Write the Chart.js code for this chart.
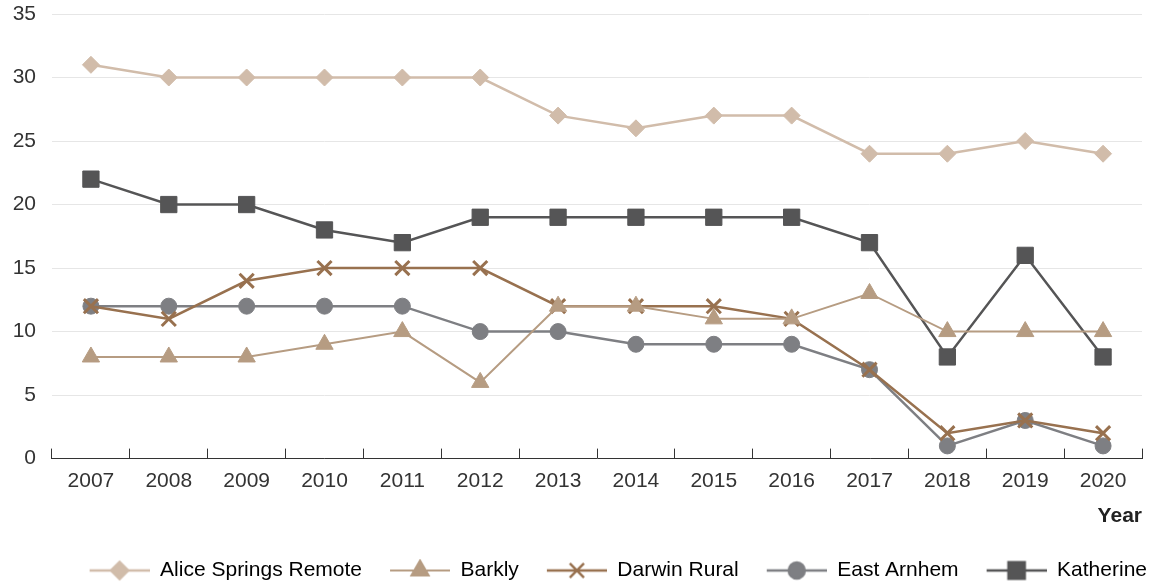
<!DOCTYPE html>
<html>
<head>
<meta charset="utf-8">
<script src="https://cdn.jsdelivr.net/npm/chart.js@4/dist/chart.umd.min.js"></script>
<style>
  html, body { margin: 0; padding: 0; background: #fff; }
  #wrap { width: 1155px; height: 583px; }
</style>
</head>
<body>
<div id="wrap"><canvas id="c"></canvas></div>
<script>
// data
const years = ['2007','2008','2009','2010','2011','2012','2013','2014','2015','2016','2017','2018','2019','2020'];
const aliceSprings = [31, 30, 30, 30, 30, 30, 27, 26, 27, 27, 24, 24, 25, 24];
const barkly = [8, 8, 8, 9, 10, 6, 12, 12, 11, 11, 13, 10, 10, 10];
const darwinRural = [12, 11, 14, 15, 15, 15, 12, 12, 12, 11, 7, 2, 3, 2];
const eastArnhem = [12, 12, 12, 12, 12, 10, 10, 9, 9, 9, 7, 1, 3, 1];
const katherine = [22, 20, 20, 18, 17, 19, 19, 19, 19, 19, 17, 8, 16, 8];
const yTicks = [0, 5, 10, 15, 20, 25, 30, 35];

const FONT = 'Liberation Sans, Arial, sans-serif';

const series = [
    { label: 'Alice Springs Remote', data: aliceSprings, color: '#d1bcaa', style: 'rectRot', radius: 8.5, width: 2.5, order: 5 },
    { label: 'Barkly', data: barkly, color: '#b69c82', style: 'triangle', radius: 10, width: 2, order: 1 },
    { label: 'Darwin Rural', data: darwinRural, color: '#98714f', style: 'crossRot', radius: 10, width: 2.5, order: 2 },
    { label: 'East Arnhem', data: eastArnhem, color: '#7e7f83', style: 'circle', radius: 8, width: 2.5, order: 3 },
    { label: 'Katherine', data: katherine, color: '#555556', style: 'rect', radius: 11.5, width: 2.5, order: 4 }
];

// legend swatch: blank margin, then a short line with the marker in the middle
const SW_MARGIN = 24, SW_LINE = 60;
function swatch(s) {
    const m = SW_MARGIN;
    const cv = document.createElement('canvas');
    cv.width = m + SW_LINE; cv.height = 24;
    const g = cv.getContext('2d');
    g.strokeStyle = s.color;
    g.fillStyle = s.color;
    g.lineWidth = s.width;
    g.beginPath(); g.moveTo(m, 12); g.lineTo(m + SW_LINE, 12); g.stroke();
    Chart.helpers.drawPoint(g, {
        pointStyle: s.style, radius: s.radius, borderWidth: s.style === 'crossRot' ? 3 : 1, rotation: 0
    }, m + SW_LINE / 2, 12);
    return cv;
}

const datasets = series.map(s => ({
    label: s.label,
    data: s.data,
    borderColor: s.color,
    backgroundColor: s.color,
    borderWidth: s.width,
    pointStyle: s.style,
    pointRadius: s.radius,
    pointHoverRadius: s.radius,
    pointBorderWidth: s.style === 'crossRot' ? 3 : 1,
    pointBackgroundColor: s.color,
    pointBorderColor: s.color,
    tension: 0,
    order: s.order
}));

const ctx = document.getElementById('c').getContext('2d');
const myChart = new Chart(ctx, {
    type: 'line',
    data: { labels: years, datasets: datasets },
    options: {
        responsive: true,
        maintainAspectRatio: false,
        animation: false,
        layout: { padding: { top: 14, right: 4, left: 0, bottom: -8 } },
        plugins: {
            tooltip: { enabled: false },
            legend: {
                position: 'bottom',
                align: 'end',
                labels: {
                    usePointStyle: true,
                    pointStyleWidth: SW_MARGIN + SW_LINE,
                    boxHeight: 20,
                    padding: 4,
                    color: '#333',
                    font: { family: FONT, size: 21 },
                    generateLabels: chart => series.map((s, i) => ({
                        text: s.label,
                        pointStyle: swatch(s),
                        fillStyle: s.color,
                        strokeStyle: s.color,
                        lineWidth: 0,
                        hidden: false,
                        datasetIndex: i
                    }))
                }
            }
        },
        scales: {
            x: {
                offset: true,
                afterFit: scale => { scale.paddingRight = 0; scale.paddingLeft = 0; },
                grid: {
                    display: true,
                    offset: true,
                    drawOnChartArea: false,
                    drawTicks: true,
                    tickLength: -10,
                    color: '#333'
                },
                border: { display: true, color: '#333', width: 1 },
                ticks: {
                    color: '#333',
                    padding: 20,
                    maxRotation: 0,
                    font: { family: FONT, size: 21 }
                },
                title: {
                    display: true,
                    text: 'Year',
                    align: 'end',
                    color: '#222',
                    padding: { top: -10, bottom: 27 },
                    font: { family: FONT, size: 21, weight: 'bold' }
                }
            },
            y: {
                min: 0,
                max: 35,
                afterBuildTicks: scale => { scale.ticks = yTicks.map(v => ({ value: v })); },
                afterFit: scale => { scale.width = 52; scale.paddingTop = 0; scale.paddingBottom = 0; },
                grid: { color: '#e6e6e6', drawTicks: false, lineWidth: 1 },
                border: { display: false },
                ticks: {
                    color: '#333',
                    padding: 16,
                    font: { family: FONT, size: 21 }
                }
            }
        }
    }
});
</script>
</body>
</html>
